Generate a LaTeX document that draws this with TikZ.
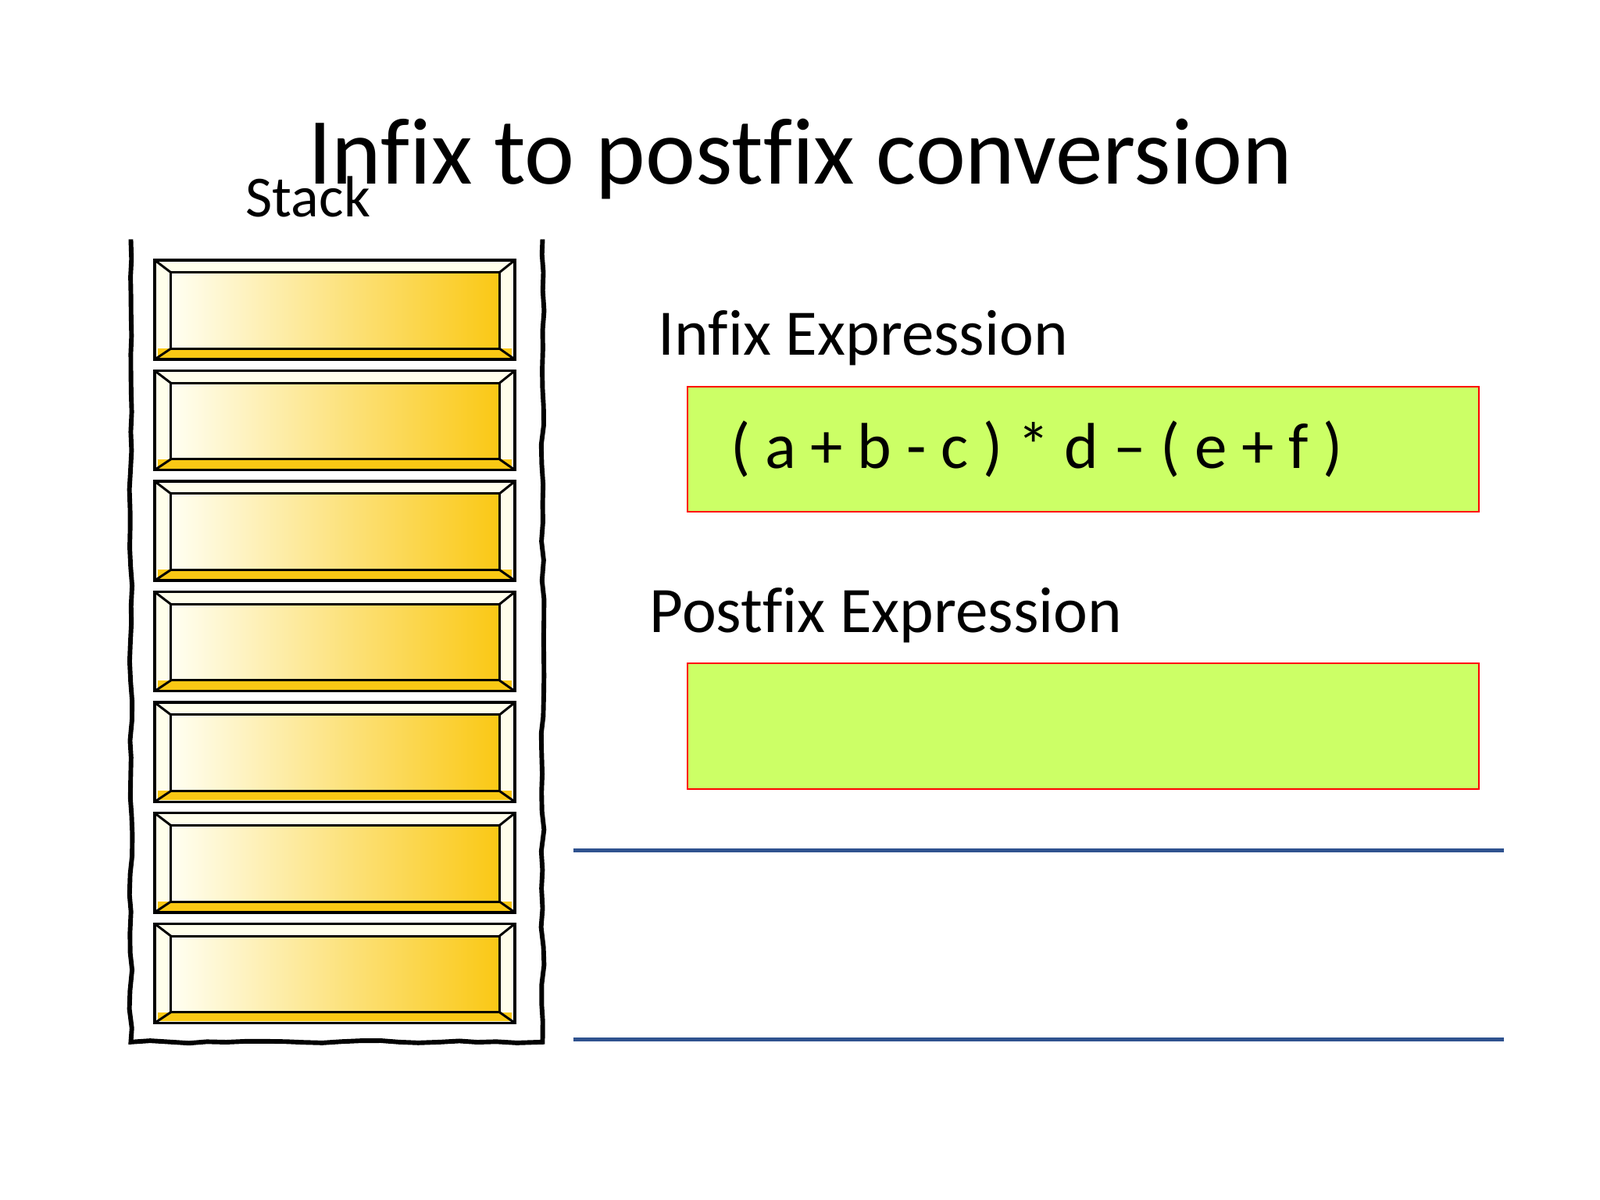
\documentclass[tikz,border=0pt]{standalone}
\usepackage{fontspec}
\setmainfont{Carlito}[RawFeature=-liga]
\usetikzlibrary{positioning, calc, decorations.pathmorphing}
\definecolor{exprgreen}{RGB}{204,255,102}
\definecolor{linenavy}{RGB}{47,82,143}
\definecolor{cellgold}{RGB}{250,200,20}

\begin{document}
\begin{tikzpicture}[
    wall/.style={line width=0.06cm,decorate,decoration={random steps,segment length=0.25cm,amplitude=0.02cm}},
    cellframe/.style={draw=black,line width=0.035cm,fill=yellow!8},
    exprbox/.style={draw=red,fill=exprgreen,line width=0.02cm,minimum width=10.29cm,minimum height=1.63cm,anchor=north west},
    rule/.style={linenavy,line width=0.05cm}
  ]
    \useasboundingbox (0,0) rectangle (20.79,-15.59);

    % Title
    \node[font=\fontsize{35}{42}\selectfont,anchor=base] (title) at (10.40,-2.39) {Infix to postfix conversion};
    \node[font=\fontsize{21.5}{26}\selectfont,anchor=base west] (stacklabel) at (3.07,-2.82) {Stack};

    % Stack walls
    \draw[wall] (1.70,-3.11) -- (1.70,-13.54) -- (7.05,-13.54) -- (7.05,-3.11);

    % Stack cells
    \foreach \i in {0,...,6}{
        \pgfmathsetmacro{\ytop}{-3.38-1.437*\i}
        \pgfmathsetmacro{\ybot}{\ytop-1.29}
        \draw[cellframe] (2.01,\ytop) rectangle (6.69,\ybot);
        \fill[cellgold] (2.05,\ybot+0.02) rectangle (6.65,\ybot+0.14);
        \shade[shading angle=-60,left color=yellow!5,right color=cellgold,draw=black,line width=0.03cm]
            (2.22,\ytop-0.16) rectangle (6.49,\ybot+0.14);
        \draw[black,line width=0.03cm] (2.01,\ytop) -- (2.22,\ytop-0.16) (6.69,\ytop) -- (6.49,\ytop-0.16)
            (2.01,\ybot) -- (2.22,\ybot+0.14) (6.69,\ybot) -- (6.49,\ybot+0.14);
    }

    % Infix expression
    \node[font=\fontsize{24}{29}\selectfont,anchor=base west] (infixlabel) at (8.43,-4.61) {Infix Expression};
    \node[exprbox] (infixbox) at (8.92,-5.01) {};
    \node[font=\fontsize{24}{29}\selectfont,anchor=west] (infixtext) at ($(infixbox.west)+(0.45,0)$) {( a + b - c ) * d – ( e + f )};

    % Postfix expression
    \node[font=\fontsize{24}{29}\selectfont,anchor=base west] (postfixlabel) at (8.32,-8.22) {Postfix Expression};
    \node[exprbox] (postfixbox) at (8.92,-8.61) {};

    % Rules
    \draw[rule] (7.45,-11.05) -- (19.54,-11.05);
    \draw[rule] (7.45,-13.51) -- (19.54,-13.51);
\end{tikzpicture}
\end{document}
